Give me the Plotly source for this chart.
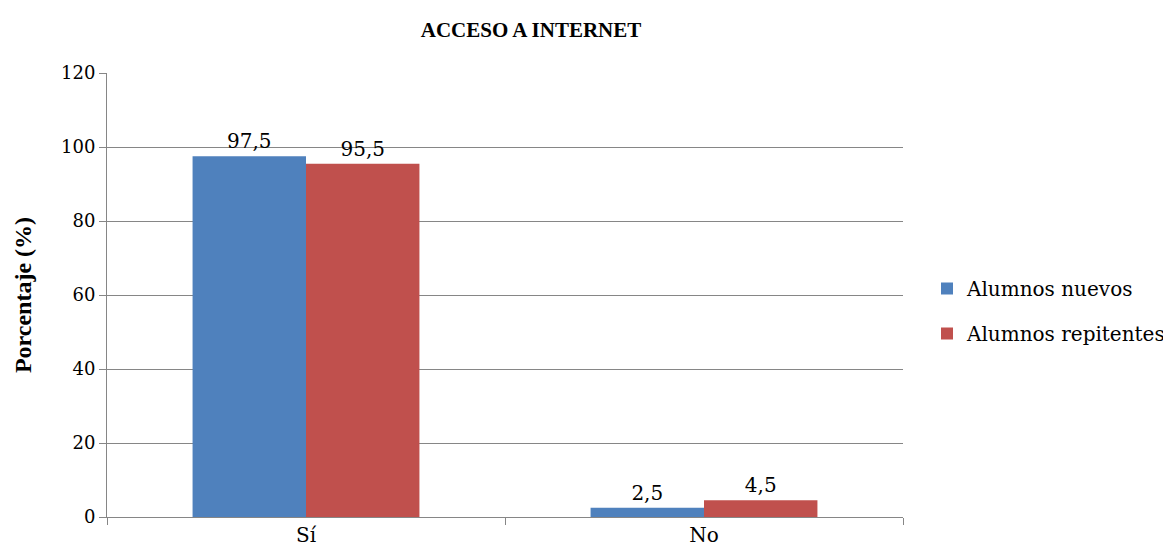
import plotly.graph_objects as go

categories = ["Sí", "No"]
nuevos = [97.5, 2.5]
repitentes = [95.5, 4.5]
series_names = ["Alumnos nuevos", "Alumnos repitentes"]
colors = ["#4F81BD", "#C0504D"]

bold_family = "Liberation Serif, Times New Roman, serif"
reg_family = "DejaVu Serif, serif"

def fmt(v):
    return f"{v:.1f}".replace(".", ",")

W, H = 1163, 552

fig = go.Figure()
for name, vals, col in zip(series_names, [nuevos, repitentes], colors):
    fig.add_trace(go.Bar(
        x=categories, y=vals, name=name, legendgroup=name,
        marker=dict(color=col, line=dict(width=0)),
        text=[fmt(v) for v in vals], textposition="outside",
        textfont=dict(family=reg_family, size=20, color="black"),
        cliponaxis=False,
    ))

fig.update_layout(
    width=W, height=H,
    paper_bgcolor="white", plot_bgcolor="white",
    margin=dict(l=99, r=268, t=65, b=43, autoexpand=False),
    barmode="group", bargap=0.43, bargroupgap=0,
    font=dict(family=reg_family, size=20, color="black"),
    title=dict(text="<b>ACCESO A INTERNET</b>", x=523/W, xanchor="center",
               y=1 - 22/H, yanchor="middle",
               font=dict(family=bold_family, size=21, color="black")),
    legend=dict(x=919/W, xanchor="left", y=1 - 303/H, yanchor="middle",
                xref="container", yref="container",
                font=dict(family=reg_family, size=20, color="black"),
                itemwidth=30, tracegroupgap=16, bgcolor="rgba(0,0,0,0)"),
    showlegend=True,
)
fig.update_yaxes(
    range=[0, 120], dtick=20, showgrid=True, gridcolor="#868686", gridwidth=1,
    showline=True, linecolor="#868686", linewidth=1,
    ticks="outside", ticklen=7, tickcolor="#868686",
    tickfont=dict(family=reg_family, size=18, color="black"),
    title=dict(text="<b>Porcentaje (%)</b>", font=dict(family=bold_family, size=24, color="black"), standoff=22),
    zeroline=False,
)
fig.update_xaxes(
    showline=True, linecolor="#868686", linewidth=1,
    ticks="outside", ticklen=7, tickcolor="#868686", tickson="boundaries",
    tickfont=dict(family=reg_family, size=20, color="black"),
    showgrid=False,
)

fig.write_html("out.html")
